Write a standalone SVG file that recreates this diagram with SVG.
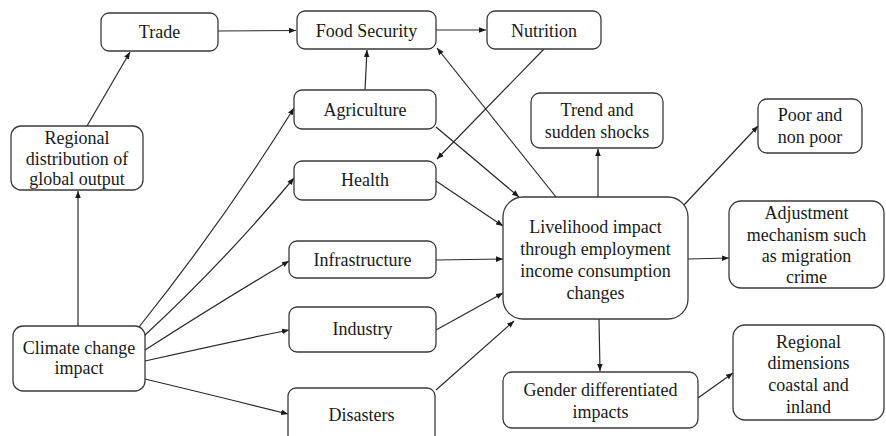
<svg xmlns="http://www.w3.org/2000/svg" width="886" height="436" viewBox="0 0 886 436">
<style>
.box{fill:#fff;stroke:#3a3a3a;stroke-width:1.3}
.t{font-size:18px;fill:#1a1a1a;text-anchor:middle}
.c{fill:none;stroke:#2a2a2a;stroke-width:1.2}
</style>
<defs>
<marker id="ah" viewBox="0 0 10 10" refX="10" refY="5" markerWidth="7" markerHeight="7" markerUnits="userSpaceOnUse" orient="auto">
<path d="M0,1 L10,5 L0,9 z" fill="#1a1a1a"/>
</marker>
</defs>
<rect width="886" height="436" fill="#fff"/>
<g id="connectors">
<line class="c" x1="87" y1="126" x2="130" y2="52" marker-end="url(#ah)"/>
<line class="c" x1="78" y1="326" x2="78" y2="191" marker-end="url(#ah)"/>
<line class="c" x1="218" y1="31" x2="296" y2="30.5" marker-end="url(#ah)"/>
<line class="c" x1="436" y1="30" x2="486" y2="30" marker-end="url(#ah)"/>
<line class="c" x1="365" y1="90" x2="367" y2="50" marker-end="url(#ah)"/>
<line class="c" x1="544" y1="49" x2="437" y2="159" marker-end="url(#ah)"/>
<line class="c" x1="556" y1="197" x2="437" y2="48" marker-end="url(#ah)"/>
<line class="c" x1="436" y1="127" x2="519" y2="197" marker-end="url(#ah)"/>
<line class="c" x1="436" y1="181" x2="503" y2="226" marker-end="url(#ah)"/>
<line class="c" x1="436" y1="260" x2="503" y2="259" marker-end="url(#ah)"/>
<line class="c" x1="436" y1="330" x2="503" y2="293" marker-end="url(#ah)"/>
<line class="c" x1="436" y1="390" x2="514" y2="321" marker-end="url(#ah)"/>
<line class="c" x1="598" y1="197" x2="598" y2="149" marker-end="url(#ah)"/>
<line class="c" x1="684" y1="205" x2="758" y2="126" marker-end="url(#ah)"/>
<line class="c" x1="688" y1="259" x2="729" y2="258" marker-end="url(#ah)"/>
<line class="c" x1="599" y1="319" x2="600" y2="371" marker-end="url(#ah)"/>
<line class="c" x1="698" y1="398" x2="733" y2="373" marker-end="url(#ah)"/>
<path class="c" d="M139,327 Q223,222 294,108" marker-end="url(#ah)"/>
<path class="c" d="M144,336 Q224,262 294,178" marker-end="url(#ah)"/>
<path class="c" d="M145,350 Q220,302 289,261" marker-end="url(#ah)"/>
<path class="c" d="M145,361 Q220,344 289,330" marker-end="url(#ah)"/>
<path class="c" d="M145,379 Q220,397 288,414" marker-end="url(#ah)"/>
</g>
<g font-family="Liberation Serif, Times New Roman, serif">
<g id="trade"><rect class="box" x="101" y="13" width="117" height="38" rx="8"/><text class="t" x="159.5" y="38">Trade</text></g>
<g id="food-security"><rect class="box" x="297" y="11" width="139" height="38" rx="8"/><text class="t" x="366.5" y="37">Food Security</text></g>
<g id="nutrition"><rect class="box" x="487" y="11" width="114" height="38" rx="8"/><text class="t" x="544" y="37">Nutrition</text></g>
<g id="regional-distribution"><rect class="box" x="11" y="126" width="132" height="64" rx="10"/><text class="t" x="77" y="144">Regional</text><text class="t" x="77" y="164.5">distribution of</text><text class="t" x="77" y="185">global output</text></g>
<g id="agriculture"><rect class="box" x="294" y="90" width="142" height="39" rx="8"/><text class="t" x="365" y="116">Agriculture</text></g>
<g id="health"><rect class="box" x="294" y="161" width="142" height="39" rx="8"/><text class="t" x="365" y="186">Health</text></g>
<g id="infrastructure"><rect class="box" x="289" y="241" width="147" height="37" rx="8"/><text class="t" x="362.5" y="266">Infrastructure</text></g>
<g id="industry"><rect class="box" x="289" y="307" width="147" height="45" rx="8"/><text class="t" x="362.5" y="335">Industry</text></g>
<g id="disasters"><rect class="box" x="288" y="388" width="147" height="60" rx="8"/><text class="t" x="361.5" y="421">Disasters</text></g>
<g id="climate-change"><rect class="box" x="13" y="326" width="132" height="65" rx="10"/><text class="t" x="79" y="354">Climate change</text><text class="t" x="79" y="374">impact</text></g>
<g id="trend"><rect class="box" x="531" y="93" width="132" height="55" rx="9"/><text class="t" x="597" y="116">Trend and</text><text class="t" x="597" y="138">sudden shocks</text></g>
<g id="poor"><rect class="box" x="758" y="99" width="104" height="54" rx="9"/><text class="t" x="810" y="121">Poor and</text><text class="t" x="810" y="143">non poor</text></g>
<g id="livelihood"><rect class="box" x="503" y="197" width="185" height="122" rx="20"/><text class="t" x="595.5" y="233">Livelihood impact</text><text class="t" x="595.5" y="255">through employment</text><text class="t" x="595.5" y="277">income consumption</text><text class="t" x="595.5" y="299">changes</text></g>
<g id="adjustment"><rect class="box" x="729" y="201" width="155" height="87" rx="12"/><text class="t" x="806.5" y="219">Adjustment</text><text class="t" x="806.5" y="241">mechanism such</text><text class="t" x="806.5" y="262">as migration</text><text class="t" x="806.5" y="283">crime</text></g>
<g id="gender"><rect class="box" x="503" y="372" width="195" height="56" rx="9"/><text class="t" x="600.5" y="396">Gender differentiated</text><text class="t" x="600.5" y="418">impacts</text></g>
<g id="regional-dimensions"><rect class="box" x="733" y="325" width="151" height="95" rx="12"/><text class="t" x="808.5" y="348">Regional</text><text class="t" x="808.5" y="369">dimensions</text><text class="t" x="808.5" y="391">coastal and</text><text class="t" x="808.5" y="413">inland</text></g>
</g>
</svg>
